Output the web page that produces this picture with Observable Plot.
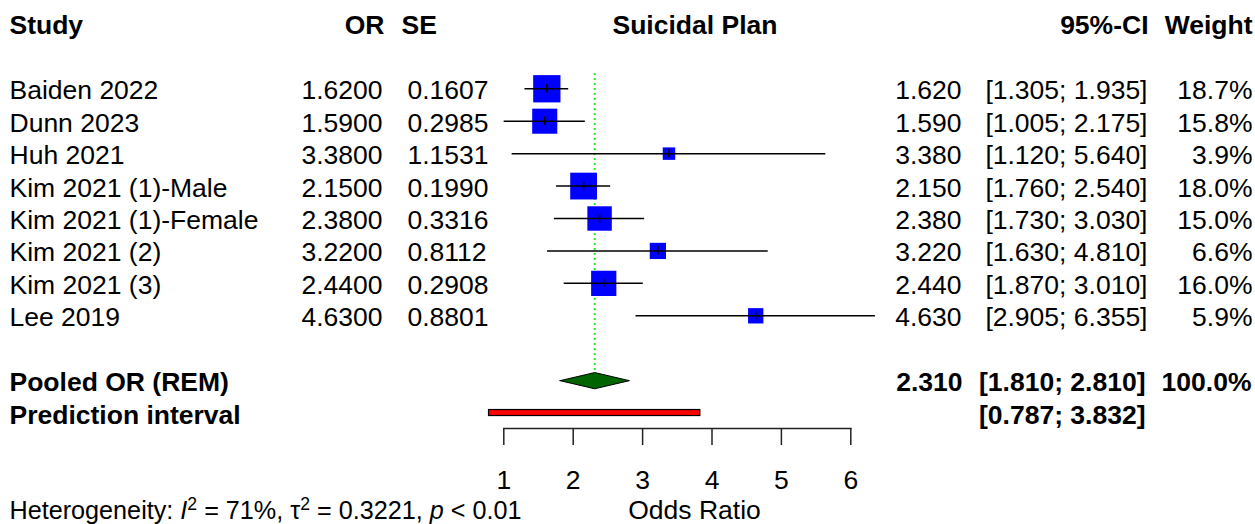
<!DOCTYPE html>
<html><head><meta charset="utf-8">
<script src="https://cdn.jsdelivr.net/npm/d3@7"></script>
<script src="https://cdn.jsdelivr.net/npm/@observablehq/plot@0.6"></script>
<style>
html,body{margin:0;padding:0;background:#fff}
#chart svg{font-family:"Liberation Sans",Arial,sans-serif;display:block}
</style>
</head><body><div id="chart"></div>
<script>
// ---------- data ----------
const studies = ["Baiden 2022","Dunn 2023","Huh 2021","Kim 2021 (1)-Male","Kim 2021 (1)-Female","Kim 2021 (2)","Kim 2021 (3)","Lee 2019"];
const orValues = [1.62, 1.59, 3.38, 2.15, 2.38, 3.22, 2.44, 4.63];
const seValues = [0.1607, 0.2985, 1.1531, 0.1990, 0.3316, 0.8112, 0.2908, 0.8801];
const ciLower = [1.305, 1.005, 1.120, 1.760, 1.730, 1.630, 1.870, 2.905];
const ciUpper = [1.935, 2.175, 5.640, 2.540, 3.030, 4.810, 3.010, 6.355];
const weights = [18.7, 15.8, 3.9, 18.0, 15.0, 6.6, 16.0, 5.9];
const pooledLabel = "Pooled OR (REM)";
const pooledOR = 2.310, pooledLower = 1.810, pooledUpper = 2.810, pooledWeight = 100.0;
const predLabel = "Prediction interval";
const predLower = 0.787, predUpper = 3.832;
const xTicks = [1, 2, 3, 4, 5, 6];
const headers = {study: "Study", or: "OR", se: "SE", title: "Suicidal Plan", ci: "95%-CI", weight: "Weight"};
const xLabel = "Odds Ratio";
const hetI2 = 71, hetTau2 = 0.3221, hetP = "< 0.01";

// ---------- layout ----------
const W = 1255, H = 524, FS = 26.5, HFS = 25.2;
const LEFT = 503.3, RIGHT = 850.3;          // frame edges (x = 1 .. 6)
const f3 = d3.format(".3f"), f4 = d3.format(".4f");

const rows = studies.map((s, i) => ({
  study: s, or: orValues[i], se: seValues[i], lo: ciLower[i], hi: ciUpper[i], w: weights[i], row: i + 2
}));
const pooledRow = 11, predRow = 12;
const summary = [{label: pooledLabel, est: pooledOR, lo: pooledLower, hi: pooledUpper, w: pooledWeight, row: pooledRow}];
const pred = [{label: predLabel, lo: predLower, hi: predUpper, row: predRow}];
const diamond = [
  {x: pooledLower, y: pooledRow}, {x: pooledOR, y: pooledRow - 0.25},
  {x: pooledUpper, y: pooledRow}, {x: pooledOR, y: pooledRow + 0.25},
  {x: pooledLower, y: pooledRow}
];

function col(data, text, absX, anchor, bold, dy = 2) {
  return Plot.text(data, {
    frameAnchor: "left", y: "row", text, dx: absX - LEFT, dy,
    textAnchor: anchor, fontWeight: bold ? "bold" : "normal", fill: "black", fontSize: FS
  });
}
const headerRow = [{row: 0}];

const plot = Plot.plot({
  width: W, height: H,
  marginLeft: LEFT, marginRight: W - RIGHT, marginTop: 0, marginBottom: 96,
  x: {domain: [1, 6]},
  y: {domain: [0, 12], range: [23.4, 412.6], axis: null},
  r: {type: "sqrt", domain: [0, 18.7], range: [0, 15.4]},
  style: {fontFamily: '"Liberation Sans", Arial, sans-serif', fontSize: FS + "px", background: "white", color: "black"},
  marks: [
    // reference line at pooled estimate
    Plot.ruleX([pooledOR], {x: d => d, y1: 1.53, y2: 10.75, stroke: "#22ee22", strokeWidth: 2, strokeDasharray: "2,3"}),
    // study squares, CIs, point ticks
    Plot.dot(rows, {x: "or", y: "row", r: "w", symbol: "square", fill: "#0000ff", stroke: "none"}),
    Plot.ruleY(rows, {y: "row", x1: "lo", x2: "hi", stroke: "black", strokeWidth: 1.5}),
    Plot.ruleX(rows, {x: "or", y1: d => d.row - 0.13, y2: d => d.row + 0.13, stroke: "black", strokeWidth: 1.5}),
    // pooled diamond
    Plot.line(diamond, {x: "x", y: "y", fill: "#006400", stroke: "black", strokeWidth: 1}),
    // prediction interval bar
    Plot.rect(pred, {x1: "lo", x2: "hi", y1: d => d.row - 0.095, y2: d => d.row + 0.09, fill: "#ff0000", stroke: "black", strokeWidth: 1.2}),
    // x axis
    Plot.frame({anchor: "bottom", stroke: "#222", strokeWidth: 1.5}),
    Plot.axisX({ticks: xTicks, tickFormat: d3.format("d"), tickSize: 17, tickPadding: 25, fontSize: FS, stroke: "#222", strokeWidth: 1.5, label: null, anchor: "bottom"}),
    Plot.text([xLabel], {frameAnchor: "bottom", dx: 694 - (LEFT + RIGHT) / 2, dy: 72, lineAnchor: "top", fontSize: FS, fill: "black"}),
    Plot.text(["Heterogeneity"], {frameAnchor: "bottom-left", dx: 9 - LEFT, dy: 73, lineAnchor: "top", textAnchor: "start", fontSize: HFS, fill: "black"}),
    // header row
    col(headerRow, () => headers.study, 9, "start", true, 1.5),
    col(headerRow, () => headers.or, 384, "end", true, 1.5),
    col(headerRow, () => headers.se, 401, "start", true, 1.5),
    col(headerRow, () => headers.title, 612, "start", true, 1.5),
    col(headerRow, () => headers.ci, 1148, "end", true, 1.5),
    col(headerRow, () => headers.weight, 1252, "end", true, 1.5),
    // study rows
    col(rows, "study", 9, "start", false),
    col(rows, d => f4(d.or), 382, "end", false),
    col(rows, d => f4(d.se), 407, "start", false),
    col(rows, d => f3(d.or), 961, "end", false),
    col(rows, d => `[${f3(d.lo)}; ${f3(d.hi)}]`, 1147, "end", false),
    col(rows, d => `${d.w.toFixed(1)}%`, 1252, "end", false),
    // summary rows
    col(summary, "label", 9, "start", true),
    col(summary, d => f3(d.est), 962, "end", true),
    col(summary, d => `[${f3(d.lo)}; ${f3(d.hi)}]`, 1145, "end", true),
    col(summary, d => `${d.w.toFixed(1)}%`, 1251, "end", true),
    col(pred, "label", 9, "start", true),
    col(pred, d => `[${f3(d.lo)}; ${f3(d.hi)}]`, 1145, "end", true)
  ]
});
document.getElementById("chart").appendChild(plot);

// rich heterogeneity text (italic I / p, superscripts)
d3.select(plot).selectAll("text").filter(function () { return this.textContent === "Heterogeneity"; }).each(function () {
  const t = d3.select(this);
  t.text(null);
  const sup = HFS * 0.38;
  t.append("tspan").text("Heterogeneity: ");
  t.append("tspan").attr("font-style", "italic").text("I");
  t.append("tspan").attr("dy", -sup).attr("font-size", HFS * 0.7).text("2");
  t.append("tspan").attr("dy", sup).text(` = ${hetI2}%, τ`);
  t.append("tspan").attr("dy", -sup).attr("font-size", HFS * 0.7).text("2");
  t.append("tspan").attr("dy", sup).text(` = ${hetTau2}, `);
  t.append("tspan").attr("font-style", "italic").text("p");
  t.append("tspan").text(` ${hetP}`);
});
</script>
</body></html>
